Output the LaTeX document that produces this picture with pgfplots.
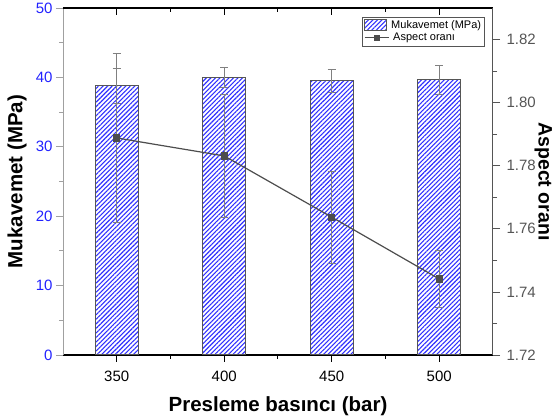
\documentclass[border=0pt]{standalone}
\usepackage{pgfplots}
\pgfplotsset{compat=1.18}
\usepackage{fontspec}
\setmainfont{Liberation Sans}
\usetikzlibrary{patterns,patterns.meta}
\definecolor{edge}{HTML}{555555}
\definecolor{errc}{HTML}{808080}
\definecolor{linec}{HTML}{4D4D4D}
\definecolor{tickblue}{HTML}{2222FF}
\definecolor{hatch}{HTML}{3030FF}
\definecolor{leftax}{HTML}{A0A0A0}
\pgfplotsset{
  barlegend/.style={legend image code/.code={\draw[##1,draw=edge,line width=0.8pt] (0pt,-5pt) rectangle (22pt,6pt);}},
  linelegend/.style={legend image code/.code={\draw[linec,line width=1pt] (0pt,0pt) -- (24pt,0pt); \fill[linec] (9.5pt,-2.5pt) rectangle (14.5pt,2.5pt);}},
}

\begin{document}
\begin{tikzpicture}
\useasboundingbox (-63pt,-65pt) rectangle (495pt,355pt);
\begin{axis}[
  at={(0,0)}, anchor=south west,
  scale only axis, width=430pt, height=347pt,
  xmin=325, xmax=525, ymin=0, ymax=50,
  axis y line*=left, axis x line*=bottom,
  /pgf/number format/assume math mode=true,
  xtick={350,400,450,500}, minor xtick={375,425,475},
  ytick={0,10,20,30,40,50}, minor ytick={5,15,25,35,45},
  tick align=outside,
  major tick length=7pt, minor tick length=4pt,
  x tick style={black, line width=1pt},
  y tick style={leftax, line width=0.8pt},
  x axis line style={black, line width=1.3pt},
  y axis line style={leftax, line width=0.8pt},
  xticklabel style={black, font=\fontsize{15}{15}\selectfont, yshift=-5pt},
  yticklabel style={tickblue, font=\fontsize{15}{15}\selectfont},
  xlabel={\textbf{Presleme basıncı (bar)}},
  ylabel={\textbf{Mukavemet (MPa)}},
  xlabel style={font=\fontsize{20.5}{20.5}\selectfont, at={(axis description cs:0.5,-0.147)}, anchor=center},
  ylabel style={font=\fontsize{20.5}{20.5}\selectfont, at={(axis description cs:-0.107,0.5)}, anchor=center},
  ybar, bar width=20,
  legend style={draw=edge, line width=0.8pt, font=\fontsize{11}{12}\selectfont,
    at={(1,1)}, anchor=north east, xshift=-8pt, yshift=-9pt,
    inner sep=1.5pt, row sep=-1pt, legend cell align=left,
    nodes={inner xsep=2pt}},
]
\addplot[draw=edge, line width=1.2pt, pattern={Lines[angle=45, distance=3.2pt, line width=1.1pt]}, pattern color=hatch,
  barlegend,
  error bars/.cd, y dir=both, y explicit,
  error bar style={errc, line width=0.8pt},
  error mark options={rotate=90, mark size=4pt, errc, line width=0.8pt}]
table[x=x, y=y, y error=e] {
x y e
350 38.8 2.5
400 40.0 1.5
450 39.5 1.6
500 39.67 2.1
};
\addlegendentry{Mukavemet (MPa)}
\addlegendimage{linec, linelegend}
\addlegendentry{\hspace{2pt}Aspect oranı}
\end{axis}

\begin{axis}[
  at={(0,0)}, anchor=south west,
  scale only axis, width=430pt, height=347pt,
  xmin=325, xmax=525, ymin=1.72, ymax=1.83,
  axis y line*=right, axis x line*=top,
  /pgf/number format/assume math mode=true,
  xtick={350,400,450,500}, minor xtick={375,425,475},
  xticklabels={},
  ytick={1.72,1.74,1.76,1.78,1.80,1.82}, minor ytick={1.73,1.75,1.77,1.79,1.81},
  xtick align=inside, ytick align=outside,
  major tick length=7pt, minor tick length=4pt,
  x tick style={black, line width=1pt},
  y tick style={edge, line width=0.8pt},
  x axis line style={black, line width=1.3pt},
  y axis line style={edge, line width=1pt},
  yticklabel style={edge, font=\fontsize{15}{15}\selectfont, xshift=3pt,
    /pgf/number format/.cd, fixed, fixed zerofill, precision=2},
  ylabel={\textbf{Aspect oranı}},
  ylabel style={font=\fontsize{19.5}{19.5}\selectfont, at={(axis description cs:1.117,0.5)}, anchor=center, rotate=180},
]
\addplot[linec, line width=1.2pt, mark=square*, mark size=3pt,
  error bars/.cd, y dir=both, y explicit,
  error bar style={errc, line width=0.8pt},
  error mark options={rotate=90, mark size=4pt, errc, line width=0.8pt}]
table[x=x, y=y, y error=e] {
x y e
350 1.7888 0.0267
400 1.7831 0.0196
450 1.7637 0.0146
500 1.7441 0.0089
};
\end{axis}
\end{tikzpicture}
\end{document}
